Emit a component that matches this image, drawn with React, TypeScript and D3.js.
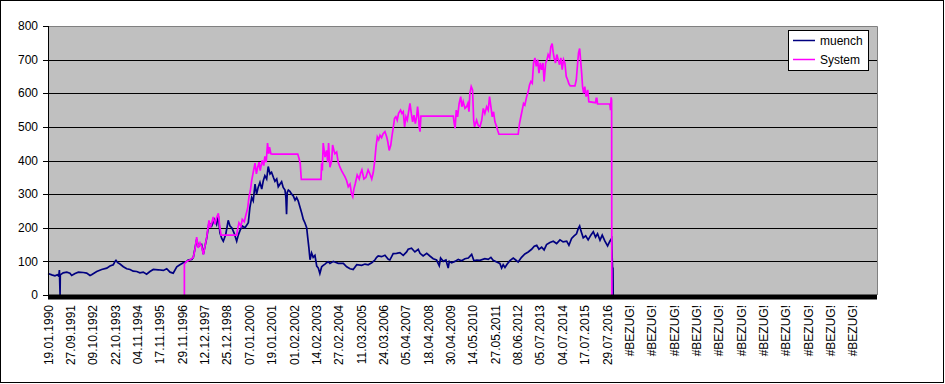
import React from "react";
import * as d3 from "d3";

// Category labels (one every 10 categories)
const xLabels: string[] = [
  "19.01.1990", "27.09.1991", "09.10.1992", "22.10.1993", "04.11.1994", "17.11.1995",
  "29.11.1996", "12.12.1997", "25.12.1998", "07.01.2000", "19.01.2001", "01.02.2002",
  "14.02.2003", "27.02.2004", "11.03.2005", "24.03.2006", "05.04.2007", "18.04.2008",
  "30.04.2009", "14.05.2010", "27.05.2011", "08.06.2012", "05.07.2013", "04.07.2014",
  "17.07.2015", "29.07.2016",
  "#BEZUG!", "#BEZUG!", "#BEZUG!", "#BEZUG!", "#BEZUG!", "#BEZUG!",
  "#BEZUG!", "#BEZUG!", "#BEZUG!", "#BEZUG!", "#BEZUG!",
];
const labelStep = 10;
const categoryCount = 370.8;

const yTicks: number[] = [0, 100, 200, 300, 400, 500, 600, 700, 800];
const yGrid: number[] = [100, 200, 300, 400, 500, 600, 700];

const seriesNames: string[] = ["muench", "System"];
const seriesColors: string[] = ["#000080", "#FF00FF"];

// [category position, value]
const muench: [number, number][] = [
  [0,64],[1.7,60],[3.1,57],[4.2,60],[4.8,56],[5.1,74],[5.2,50],[5.4,0],[5.5,60],[6.8,66],[8.4,68],[9.8,65],[10.6,58],
  [12.1,64],[13.6,68],[15.8,67],[17.3,65],[18.8,58],[19.5,60],[21.8,70],[24.0,76],[26.3,80],[27.7,86],[29.2,90],
  [30.0,100],[30.4,103],[31.2,96],[32.2,92],[33.7,84],[35.2,78],[36.7,76],[38.1,71],[39.7,70],[41.1,66],[42.6,68],
  [44.1,62],[45.6,70],[47.1,76],[49.3,75],[51.6,73],[53.1,78],[54.6,68],[56.0,65],[57.6,84],[59.0,90],[60.5,96],
  [61.3,97],[62.0,100],[62.7,104],[64.3,106],[65.0,112],[66.5,165],[67.2,145],[68.7,150],[69.5,122],[71.0,170],
  [72.0,215],[73.2,205],[74.4,225],[75.4,210],[76.2,235],[76.9,185],[77.7,168],[78.4,160],[79.5,180],[80.6,222],
  [81.4,205],[82.2,200],[83.2,185],[84.4,160],[85.1,178],[85.9,192],[86.9,205],[88.1,200],[89.6,215],[90.3,260],
  [91.1,290],[91.8,280],[92.6,330],[93.3,300],[94.0,320],[94.8,335],[95.6,315],[96.3,340],[97.0,355],[97.8,345],
  [98.5,382],[99.3,360],[100.0,365],[100.8,350],[101.5,338],[102.3,345],[103.0,322],[103.8,330],[104.5,337],
  [105.2,320],[106.0,312],[106.4,290],[106.7,240],[107.0,305],[107.5,312],[108.2,308],[109.0,300],[109.7,295],
  [110.5,282],[111.2,290],[111.9,280],[112.7,262],[113.5,243],[114.2,225],[114.9,215],[115.7,200],[116.1,175],
  [116.7,140],[117.2,105],[117.9,125],[118.6,112],[119.4,118],[120.2,86],[120.9,80],[121.6,64],[122.4,84],
  [123.1,88],[123.9,92],[124.6,96],[125.4,99],[126.1,94],[126.9,97],[127.6,100],[128.3,98],[129.8,94],[132.1,94],
  [133.6,84],[135.1,78],[136.5,76],[138.1,90],[140.3,88],[141.8,92],[143.2,90],[144.8,96],[146.2,104],[147.0,112],
  [147.7,116],[149.2,114],[150.7,118],[152.2,106],[152.9,104],[154.4,123],[155.9,124],[157.4,126],[158.9,118],
  [160.4,128],[161.1,136],[162.6,139],[164.1,128],[165.6,136],[166.4,124],[167.8,116],[169.4,124],[170.8,116],
  [172.3,108],[173.8,104],[175.0,87],[175.6,110],[176.8,100],[178.0,104],[179.0,80],[179.5,100],[180.5,96],
  [182.0,100],[183.5,106],[185.0,102],[186.5,108],[188.0,110],[189.5,121],[190.5,102],[191.7,104],[193.2,103],
  [195.4,108],[196.9,106],[198.1,112],[199.1,103],[200.7,98],[202.1,94],[202.9,80],[203.6,90],[204.4,82],
  [205.4,92],[206.6,102],[208.1,110],[209.2,104],[210.3,98],[211.8,112],[213.3,122],[214.8,128],[216.3,136],
  [217.5,145],[218.6,148],[219.6,136],[220.8,142],[221.9,134],[223.0,150],[224.5,156],[226.0,160],[227.5,153],
  [229.0,164],[230.4,158],[232.0,160],[233.0,148],[234.2,168],[235.2,175],[236.4,182],[237.2,198],[237.8,205],
  [238.4,190],[239.4,170],[240.5,176],[241.6,164],[242.8,178],[243.9,188],[244.9,172],[245.8,182],[246.9,163],
  [247.9,178],[249.1,160],[250.3,146],[251.3,160],[252.1,168],[252.5,79],[252.7,79],[252.8,0],
];

const system: [number, number][] = [
  [61.0,0],[61.0,92],[62.0,100],[63.1,103],[64.3,108],[65.0,112],[65.7,135],[66.5,172],[67.2,140],[68.0,155],
  [68.7,145],[69.5,120],[70.2,145],[71.0,172],[72.0,222],[72.6,200],[73.2,213],[73.9,232],[74.7,210],[75.4,230],
  [76.2,243],[76.8,205],[77.4,178],[84.4,178],[84.8,195],[85.4,215],[86.3,205],[86.9,225],[87.8,218],[88.4,235],
  [89.3,258],[89.9,292],[90.5,310],[91.1,340],[91.8,365],[92.6,392],[93.2,360],[93.8,380],[94.4,395],[94.9,370],
  [95.8,400],[96.5,385],[97.0,412],[97.6,395],[98.2,452],[98.7,420],[99.1,440],[99.7,420],[100.3,419],[111.7,419],
  [112.2,408],[112.8,392],[113.3,344],[122.1,344],[122.4,392],[122.7,370],[123.1,452],[123.9,410],[124.6,430],
  [125.1,395],[125.5,452],[126.1,380],[126.9,400],[127.3,446],[127.9,430],[128.3,420],[129.1,425],[129.8,395],
  [130.6,380],[131.3,370],[132.1,360],[132.8,352],[133.6,340],[134.3,322],[135.1,330],[135.8,300],[136.3,292],
  [136.8,315],[137.4,330],[138.3,357],[139.2,345],[139.8,362],[140.4,372],[141.3,345],[142.2,350],[143.2,372],
  [144.0,360],[144.8,345],[145.5,365],[146.2,402],[146.7,440],[147.3,470],[147.9,462],[148.5,475],[149.2,468],
  [149.9,480],[150.7,486],[151.5,470],[152.0,455],[152.6,430],[153.3,445],[153.8,470],[154.4,496],[155.0,525],
  [155.6,530],[156.2,520],[156.8,540],[157.7,550],[158.3,540],[158.9,545],[159.5,500],[160.1,530],[160.7,520],
  [161.3,545],[161.9,570],[162.5,540],[163.1,515],[163.7,535],[164.3,510],[164.9,530],[165.3,560],[165.8,530],
  [166.0,500],[166.4,486],[166.8,532],[181.3,532],[181.7,510],[182.1,496],[182.6,550],[183.2,530],[183.9,570],
  [184.6,590],[185.1,560],[185.7,575],[186.5,555],[187.2,560],[187.8,570],[188.3,545],[188.7,600],[189.3,620],
  [189.9,610],[190.4,520],[190.8,500],[191.7,520],[192.4,505],[193.2,500],[194.0,520],[194.7,555],[195.4,540],
  [196.2,560],[196.9,550],[197.5,590],[198.1,560],[198.7,530],[199.3,545],[199.9,515],[200.7,500],[201.1,490],
  [201.7,478],[210.3,478],[210.9,510],[211.5,530],[212.1,550],[212.7,570],[213.3,565],[214.1,590],[214.8,605],
  [215.4,625],[216.0,635],[216.6,630],[217.2,690],[217.8,705],[218.4,680],[219.0,700],[219.6,660],[220.2,690],
  [220.8,670],[221.4,690],[221.9,635],[222.6,690],[223.2,700],[223.7,715],[224.4,705],[224.9,738],[225.5,748],
  [226.0,720],[226.4,705],[227.0,690],[227.6,715],[228.2,700],[228.8,685],[229.4,705],[230.0,670],[230.6,700],
  [231.2,690],[231.8,650],[232.4,640],[233.0,628],[233.6,622],[235.7,622],[236.3,640],[236.9,690],[237.3,720],
  [237.8,733],[238.2,700],[238.7,660],[239.1,620],[239.6,600],[240.1,620],[240.7,590],[241.4,610],[241.9,575],
  [244.9,572],[245.2,585],[245.5,585],[245.8,568],[251.3,568],[251.6,550],[251.9,588],[252.1,578],[252.2,0],
];

const FONT = "'Liberation Sans', Arial, sans-serif";

export default function App() {
  const plotLeft = 48, plotRight = 877, plotTop = 26, plotBottom = 295;
  const x = d3.scaleLinear().domain([0, categoryCount]).range([plotLeft, plotRight]);
  const y = d3.scaleLinear().domain([0, 800]).range([plotBottom, plotTop]);
  const line = d3.line<[number, number]>().x((d) => x(d[0])).y((d) => y(d[1]));
  const crisp = (v: number) => Math.round(v) + 0.5;

  return (
    <svg width={945} height={384} style={{ position: "absolute", left: 0, top: 0 }} fontFamily={FONT}>
      <rect x={0} y={0} width={945} height={384} fill="#fff" />
      <rect x={0.5} y={0.5} width={943} height={382} fill="none" stroke="#000" />
      <rect x={plotLeft} y={plotTop} width={plotRight - plotLeft} height={plotBottom - plotTop} fill="#C0C0C0" />
      <path d={`M${plotLeft},${crisp(plotTop)}H${crisp(plotRight)}V${plotBottom}`} fill="none" stroke="#808080" />
      {yGrid.map((v) => (
        <line key={v} x1={plotLeft} x2={plotRight} y1={crisp(y(v))} y2={crisp(y(v))} stroke="#000" strokeWidth={1} />
      ))}
      <path d={line(muench) || ""} fill="none" stroke={seriesColors[0]} strokeWidth={1.7} strokeLinejoin="miter" />
      <path d={line(system) || ""} fill="none" stroke={seriesColors[1]} strokeWidth={1.7} strokeLinejoin="miter" />
      <rect x={plotLeft} y={plotBottom - 0.5} width={plotRight - plotLeft} height={5} fill="#000" />
      <line x1={crisp(plotLeft)} x2={crisp(plotLeft)} y1={plotTop} y2={plotBottom} stroke="#000" />
      {yTicks.map((v) => (
        <g key={v}>
          <line x1={43} x2={plotLeft} y1={crisp(y(v))} y2={crisp(y(v))} stroke="#000" />
          <text x={38} y={y(v)} dy="0.35em" textAnchor="end" fontSize={12} fill="#000">{v}</text>
        </g>
      ))}
      {xLabels.map((lab, i) => {
        const px = x(i * labelStep) + 4.6;
        return (
          <text key={i} transform={`translate(${px},305) rotate(-90)`} textAnchor="end" fontSize={12} fill="#000">
            {lab}
          </text>
        );
      })}
      <g>
        <rect x={788.5} y={30.5} width={80} height={40} fill="#fff" stroke="#000" />
        {seriesNames.map((n, i) => (
          <g key={n}>
            <line x1={793} x2={815} y1={40.5 + i * 19} y2={40.5 + i * 19} stroke={seriesColors[i]} strokeWidth={1.5} />
            <text x={820} y={45 + i * 19} fontSize={12} fill="#000">{n}</text>
          </g>
        ))}
      </g>
    </svg>
  );
}
